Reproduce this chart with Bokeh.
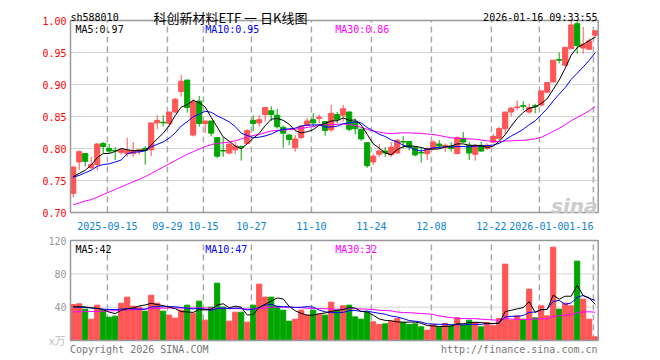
import numpy as np
import pandas as pd
from bokeh.plotting import figure
from bokeh.models import Range1d, Label, ColumnDataSource
from bokeh.core.properties import value
from bokeh.embed import file_html
from bokeh.resources import INLINE

# ---------------- data ----------------
symbol = "sh588010"
title_text = "科创新材料ETF 一 日K线图"
stamp = "2026-01-16 09:33:55"
tick_index = [6, 16, 22, 30, 40, 50, 60, 70, 78, 87]
tick_labels = ["2025-09-15", "09-29", "10-15", "10-27", "11-10", "11-24",
               "12-08", "12-22", "2026-01-05", "01-16"]
price_ticks = [0.70, 0.75, 0.80, 0.85, 0.90, 0.95, 1.00]
vol_ticks = [40, 80, 120]
ma_price_labels = ["MA5:0.97", "MA10:0.95", "MA30:0.86"]
ma_vol_labels = ["MA5:42", "MA10:47", "MA30:32"]
vol_unit = "x万"

opens = [0.730, 0.779, 0.792, 0.770, 0.775, 0.808, 0.800, 0.797, 0.794, 0.792,
         0.792, 0.795, 0.800, 0.798, 0.840, 0.841, 0.839, 0.857, 0.889, 0.907,
         0.821, 0.874, 0.839, 0.843, 0.817, 0.797, 0.793, 0.798, 0.803, 0.808,
         0.844, 0.840, 0.853, 0.859, 0.852, 0.833, 0.821, 0.801, 0.817, 0.836,
         0.845, 0.847, 0.842, 0.829, 0.853, 0.852, 0.857, 0.842, 0.830, 0.809,
         0.779, 0.791, 0.796, 0.790, 0.793, 0.811, 0.811, 0.802, 0.794, 0.792,
         0.800, 0.807, 0.802, 0.804, 0.792, 0.816, 0.805, 0.791, 0.805, 0.800,
         0.810, 0.816, 0.831, 0.857, 0.864, 0.867, 0.857, 0.867, 0.868, 0.888,
         0.904, 0.939, 0.930, 0.956, 0.995, 0.957, 0.955, 0.977]
closes = [0.771, 0.795, 0.780, 0.775, 0.807, 0.803, 0.796, 0.796, 0.798, 0.797,
          0.796, 0.798, 0.797, 0.840, 0.844, 0.840, 0.857, 0.877, 0.905, 0.864,
          0.873, 0.839, 0.843, 0.824, 0.788, 0.796, 0.807, 0.804, 0.802, 0.828,
          0.839, 0.845, 0.864, 0.853, 0.834, 0.824, 0.814, 0.815, 0.835, 0.843,
          0.840, 0.849, 0.828, 0.855, 0.845, 0.862, 0.830, 0.831, 0.815, 0.773,
          0.788, 0.796, 0.793, 0.802, 0.813, 0.810, 0.802, 0.790, 0.793, 0.800,
          0.810, 0.804, 0.805, 0.800, 0.817, 0.810, 0.793, 0.805, 0.796, 0.805,
          0.819, 0.831, 0.857, 0.863, 0.865, 0.866, 0.864, 0.866, 0.890, 0.903,
          0.938, 0.938, 0.958, 0.993, 0.961, 0.963, 0.968, 0.984]
highs = [0.772, 0.797, 0.792, 0.787, 0.808, 0.810, 0.807, 0.802, 0.800, 0.817,
         0.810, 0.798, 0.804, 0.840, 0.852, 0.852, 0.857, 0.879, 0.915, 0.907,
         0.878, 0.882, 0.843, 0.843, 0.818, 0.817, 0.809, 0.810, 0.805, 0.830,
         0.852, 0.852, 0.864, 0.866, 0.862, 0.836, 0.823, 0.821, 0.836, 0.848,
         0.855, 0.853, 0.843, 0.868, 0.857, 0.868, 0.858, 0.847, 0.831, 0.810,
         0.792, 0.807, 0.802, 0.810, 0.814, 0.819, 0.811, 0.804, 0.802, 0.802,
         0.813, 0.813, 0.808, 0.810, 0.819, 0.826, 0.810, 0.807, 0.810, 0.808,
         0.823, 0.834, 0.857, 0.865, 0.875, 0.874, 0.870, 0.870, 0.890, 0.904,
         0.938, 0.950, 0.958, 0.999, 0.999, 0.990, 0.972, 0.984]
lows = [0.724, 0.766, 0.772, 0.767, 0.766, 0.793, 0.793, 0.782, 0.790, 0.787,
        0.787, 0.790, 0.775, 0.788, 0.830, 0.834, 0.834, 0.855, 0.881, 0.856,
        0.819, 0.834, 0.824, 0.819, 0.785, 0.787, 0.791, 0.791, 0.781, 0.807,
        0.827, 0.834, 0.842, 0.843, 0.831, 0.801, 0.805, 0.795, 0.815, 0.835,
        0.834, 0.839, 0.820, 0.826, 0.839, 0.842, 0.827, 0.822, 0.812, 0.770,
        0.774, 0.787, 0.787, 0.787, 0.792, 0.800, 0.797, 0.788, 0.778, 0.782,
        0.797, 0.800, 0.795, 0.795, 0.791, 0.809, 0.782, 0.781, 0.795, 0.798,
        0.808, 0.813, 0.822, 0.850, 0.860, 0.860, 0.854, 0.855, 0.866, 0.887,
        0.903, 0.933, 0.929, 0.955, 0.948, 0.948, 0.954, 0.973]
volumes = [43.2, 44.0, 37.6, 25.6, 42.4, 36.4, 28.0, 29.2, 44.8, 52.0,
           41.2, 40.0, 35.2, 54.4, 44.8, 35.2, 30.4, 26.8, 36.4, 42.4,
           32.8, 47.2, 24.4, 40.0, 68.8, 40.0, 23.2, 34.0, 34.0, 22.0,
           42.4, 67.6, 52.0, 52.0, 41.2, 36.4, 23.2, 25.6, 36.4, 30.4,
           36.4, 31.6, 30.4, 46.0, 36.4, 41.6, 42.4, 28.4, 25.6, 33.6,
           22.4, 19.2, 20.0, 23.2, 26.4, 21.6, 19.2, 20.0, 16.4, 12.4,
           19.2, 16.4, 20.4, 17.6, 27.2, 18.4, 24.4, 21.6, 16.4, 21.6,
           17.6, 26.4, 91.6, 24.4, 29.6, 25.6, 61.6, 27.2, 41.6, 29.6,
           112.0, 37.6, 44.8, 41.6, 95.2, 49.6, 25.6, 4.4]

# moving-average values before enough history is visible
ma5_head = [0.756, 0.761, 0.766, 0.774]
ma10_head = [0.755, 0.758, 0.762, 0.766, 0.772, 0.775, 0.776, 0.779, 0.782]
ma30_head = [0.712, 0.715, 0.718, 0.720, 0.724, 0.728, 0.732, 0.736, 0.740, 0.744,
             0.748, 0.752, 0.756, 0.761, 0.766, 0.771, 0.776, 0.781, 0.786, 0.791,
             0.795, 0.799, 0.803, 0.806, 0.808, 0.809, 0.810, 0.812, 0.815]
vma5_head = [40.4, 40.5, 40.4, 39.2]
vma10_head = [40.4, 40.0, 39.5, 39.0, 38.4, 37.6, 37.2, 37.2, 37.6]
vma30_head = [34.4, 34.5, 34.6, 34.8, 35.0, 35.2, 35.5, 35.8, 36.2, 36.6,
              37.0, 37.4, 37.8, 38.2, 38.6, 38.8, 39.0, 39.0, 39.0, 39.0,
              39.0, 39.0, 39.0, 38.8, 38.8, 38.6, 38.4, 38.2, 38.0]


def moving(vals, n, head):
    s = pd.Series(vals, dtype=float).rolling(n).mean().to_numpy()
    s[:len(head)] = head
    return s


ma5 = moving(closes, 5, ma5_head)
ma10 = moving(closes, 10, ma10_head)
ma30 = moving(closes, 30, ma30_head)
vma5 = moving(volumes, 5, vma5_head)
vma10 = moving(volumes, 10, vma10_head)
vma30 = moving(volumes, 30, vma30_head)

# ---------------- layout helpers (page pixels -> data units) ----------------
W, H = 660, 360
X0, X1 = -0.45, 87.5          # visible bar-index span of both panels
S = 6.0                        # pixels per bar
P_LO, P_HI = 0.70, 1.00        # price panel
V_LO, V_HI = 0, 120            # volume panel
GRID_SHIFT = 0.3


def ix(px):
    return X0 + (px - 70) / S


def pp(py):
    return P_HI - (py - 20) / 640.0


def pv(py):
    return (340 - py) * 1.2


RED = "#ff5555"
GREEN = "#00a600"
MA_COLORS = ["#000000", "#0000ff", "#ff00ff"]
MONO = "DejaVu Sans Mono"
CJK = "Noto Sans CJK SC"
FRAME = "#999999"
GRIDC = "#aaaaaa"

p = figure(width=W, height=H, x_range=Range1d(ix(0), ix(W)),
           y_range=Range1d(pp(H), pp(0)),
           x_axis_location=None, y_axis_location=None,
           output_backend="svg", toolbar_location=None, min_border=0)
p.extra_y_ranges = {"vol": Range1d(pv(H), pv(0))}
p.outline_line_color = None
p.xgrid.visible = False
p.ygrid.visible = False
p.background_fill_color = "white"
p.border_fill_color = "white"

x = list(range(len(closes)))
colors = [RED if c >= o else GREEN for o, c in zip(opens, closes)]
src = ColumnDataSource(dict(
    x=x, o=opens, c=closes, h=highs, l=lows, v=volumes,
    top=[max(o, c) for o, c in zip(opens, closes)],
    bot=[min(o, c) for o, c in zip(opens, closes)],
    col=colors,
    ma5=ma5, ma10=ma10, ma30=ma30, vma5=vma5, vma10=vma10, vma30=vma30,
))
grid_x = [t - GRID_SHIFT for t in tick_index]

# ---- grid lines ----
inner_p = price_ticks[1:-1]
p.segment(x0=X0, x1=X1, y0=inner_p, y1=inner_p, color=GRIDC, line_dash="1 1", line_width=1)
p.segment(x0=grid_x, x1=grid_x, y0=P_LO, y1=P_HI, color=GRIDC, line_dash="6 4", line_width=1.5)
inner_v = vol_ticks[:-1]
p.segment(x0=X0, x1=X1, y0=inner_v, y1=inner_v, color=GRIDC, line_dash="1 1", line_width=1,
          y_range_name="vol")
p.segment(x0=grid_x, x1=grid_x, y0=V_LO, y1=V_HI, color=GRIDC, line_dash="6 4", line_width=1.5,
          y_range_name="vol")

# ---- price panel ----
p.segment(x0="x", y0="l", x1="x", y1="h", color="col", line_width=1, source=src)
p.vbar(x="x", width=0.85, top="top", bottom="bot", fill_color="col", line_color="col",
       line_width=1, source=src)
for key, colr in zip(["ma30", "ma10", "ma5"], MA_COLORS[::-1]):
    p.line("x", key, source=src, color=colr, line_width=1)
p.quad(left=[X0], right=[X1], bottom=[P_LO], top=[P_HI], fill_color=None,
       line_color=FRAME, line_width=1.5)

# ---- volume panel ----
p.vbar(x="x", width=0.85, top="v", bottom=0, fill_color="col", line_color="col",
       line_width=1, source=src, y_range_name="vol")
for key, colr in zip(["vma30", "vma10", "vma5"], MA_COLORS[::-1]):
    p.line("x", key, source=src, color=colr, line_width=1, y_range_name="vol")
p.quad(left=[X0], right=[X1], bottom=[V_LO], top=[V_HI], fill_color=None,
       line_color=FRAME, line_width=1.5, y_range_name="vol")


# ---- texts ----
def txt(xx, yy, s, color="#000000", align="left", font=MONO, size="10px",
        style="normal", baseline="alphabetic", rng="default", bg=None):
    kw = dict(x=xx, y=yy, text=s, text_color=color, text_align=align,
              text_baseline=baseline, text_font=font, text_font_size=size,
              text_font_style=style, y_range_name=rng)
    if bg is not None:
        kw["background_fill_color"] = bg
    p.add_layout(Label(**kw))


p.text(x=[ix(66)] * len(price_ticks), y=price_ticks,
       text=["%.2f" % t for t in price_ticks], text_color="#ff0000", text_align="right",
       text_baseline="middle", text_font=value(MONO), text_font_size="10px")
p.text(x=[ix(66)] * len(vol_ticks), y=vol_ticks, text=["%d" % t for t in vol_ticks],
       text_color="#999999", text_align="right", text_baseline="middle",
       text_font=value(MONO), text_font_size="10px", y_range_name="vol")

txt(ix(70), pp(16.7), symbol)
txt(ix(230), pp(16.5), title_text, align="center", font=CJK, size="13px")
txt(ix(597), pp(16.7), stamp, align="right")
for s, colr, px in zip(ma_price_labels, MA_COLORS, [75, 204.7, 334.7]):
    txt(ix(px), pp(29.3), s, color=colr)
txt(ix(597), pp(205), "sina", color="#cccccc", align="right",
    font="DejaVu Sans", size="20px", style="bold italic")
for i, (t, s) in enumerate(zip(grid_x, tick_labels)):
    last = i == len(tick_labels) - 1
    txt(t, pp(225), s, color="#0b84d4", align="right" if last else "center",
        bg="white" if last else None)

for s, colr, px in zip(ma_vol_labels, MA_COLORS, [75, 204.7, 334.7]):
    txt(ix(px), pv(249.3), s, color=colr, rng="vol")
txt(ix(65), pv(339.5), vol_unit, color="#c0c0c0", align="right", font=CJK, size="11px",
    baseline="middle", rng="vol")
txt(ix(69.5), pv(348.5), "Copyright 2026 SINA.COM", color="#777777", rng="vol")
txt(ix(597), pv(348.5), "http://finance.sina.com.cn", color="#777777", align="right",
    rng="vol")

open("out.html", "w").write(file_html(p, INLINE))
